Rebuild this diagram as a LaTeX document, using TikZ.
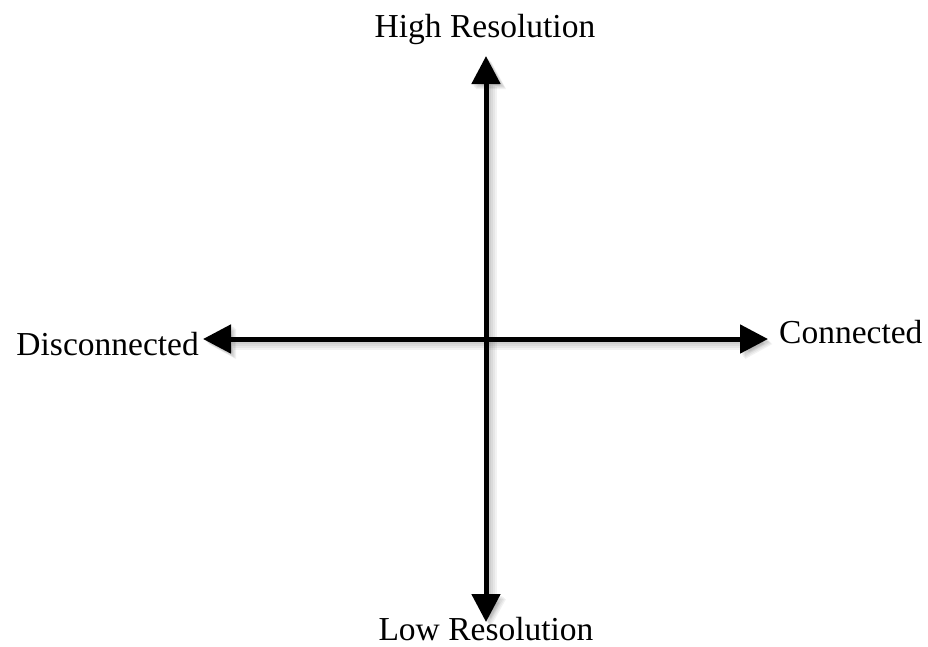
\documentclass[tikz,border=0pt]{standalone}
\usepackage{fontspec}
\setmainfont{Liberation Serif}
\usetikzlibrary{arrows.meta}
\begin{document}
\begin{tikzpicture}[x=1pt,y=-1pt,
  axis/.style={line width=5pt,{Triangle[length=28pt,width=28pt]}-{Triangle[length=28pt,width=28pt]}},
  shade1/.style={line width=#1,draw=black,opacity=0.05,{Triangle[length=28pt,width=28pt]}-{Triangle[length=28pt,width=28pt]}},
  lbl/.style={font=\fontsize{33.5}{40}\selectfont,inner sep=0pt}]
\useasboundingbox (0,0) rectangle (928,646);
\coordinate (T) at (486,56);
\coordinate (B) at (486,622);
\coordinate (L) at (203,339);
\coordinate (R) at (768,339);
% soft shadows
\foreach \w/\d in {11pt/5,9pt/4,7pt/3,5pt/2}{
  \draw[shade1=\w] ([shift={(\d,\d)}]T) -- ([shift={(\d,\d)}]B);
  \draw[shade1=\w] ([shift={(\d,\d)}]L) -- ([shift={(\d,\d)}]R);
}
\draw[axis] (B) -- (T);
\draw[axis] (L) -- (R);
\node[lbl,anchor=base] (hi) at (485,37) {High Resolution};
\node[lbl,anchor=base] (lo) at (486,640) {Low Resolution};
\node[lbl,anchor=base east] (dc) at (199,355) {Disconnected};
\node[lbl,anchor=base west] (cn) at (779,343) {Connected};
\end{tikzpicture}
\end{document}
